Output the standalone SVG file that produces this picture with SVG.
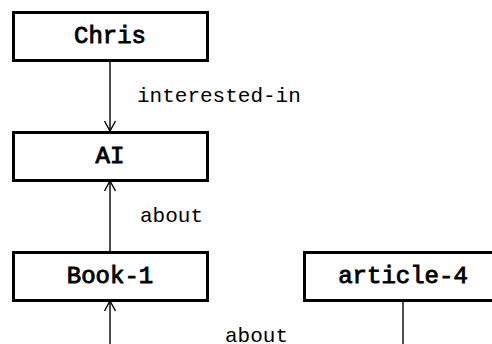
<svg xmlns="http://www.w3.org/2000/svg" width="492" height="344" viewBox="0 0 492 344">
  <style>
    .box { fill: #fff; stroke: #000; stroke-width: 3; }
    .name { font-family: "Liberation Mono", "Courier New", monospace; font-size: 24px; text-anchor: middle; fill: #000; stroke: #000; stroke-width: 0.9; }
    .edge { stroke: #000; stroke-width: 1.4; fill: none; }
    .rel { font-family: "Liberation Mono", "Courier New", monospace; font-size: 21px; fill: #000; }
  </style>
  <defs>
    <marker id="open" viewBox="0 0 12 12" refX="11" refY="6" markerWidth="12" markerHeight="12" markerUnits="userSpaceOnUse" orient="auto">
      <path d="M1,0.5 L11,6 L1,11.5" fill="none" stroke="#000" stroke-width="1.4"/>
    </marker>
  </defs>
  <rect width="492" height="344" fill="#fff"/>

  <g id="connectors">
    <line class="edge" x1="110" y1="61" x2="110" y2="131" marker-end="url(#open)"/>
    <text class="rel" x="137" y="102">interested-in</text>
    <line class="edge" x1="110" y1="252" x2="110" y2="181" marker-end="url(#open)"/>
    <text class="rel" x="140" y="222">about</text>
    <line class="edge" x1="110" y1="344" x2="110" y2="301" marker-end="url(#open)"/>
    <text class="rel" x="225" y="342">about</text>
    <line class="edge" x1="403" y1="301" x2="403" y2="344"/>
  </g>

  <g id="chris">
    <rect class="box" x="13.5" y="12.5" width="194" height="48"/>
    <text class="name" x="110" y="43">Chris</text>
  </g>
  <g id="ai">
    <rect class="box" x="13.5" y="132.5" width="194" height="48"/>
    <text class="name" x="110" y="163">AI</text>
  </g>
  <g id="book-1">
    <rect class="box" x="13.5" y="252.5" width="194" height="48"/>
    <text class="name" x="110" y="283">Book-1</text>
  </g>
  <g id="article-4">
    <rect class="box" x="304.5" y="252.5" width="200" height="48"/>
    <text class="name" x="403" y="283">article-4</text>
  </g>
</svg>
